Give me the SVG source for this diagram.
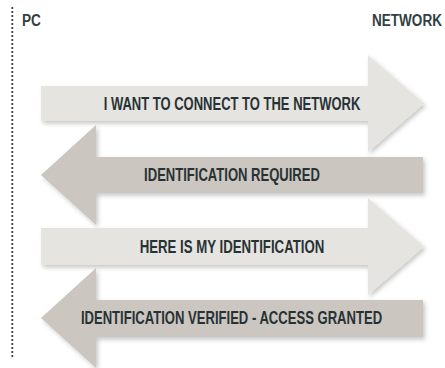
<svg xmlns="http://www.w3.org/2000/svg" width="445" height="368" viewBox="0 0 445 368">
<defs>
<filter id="sh" x="-10%" y="-20%" width="130%" height="150%">
<feDropShadow dx="2" dy="2.5" stdDeviation="2" flood-color="#000" flood-opacity="0.22"/>
</filter>
<style>
.r{fill:#e6e4e0;filter:url(#sh)}
.l{fill:#cbc6c0;filter:url(#sh)}
.t{font-family:"Liberation Sans",Arial,sans-serif;font-weight:bold;font-size:17.5px;fill:#283235;text-anchor:middle}
.h{font-family:"Liberation Sans",Arial,sans-serif;font-weight:bold;font-size:17px;fill:#313f44}
</style>
</defs>
<rect width="445" height="368" fill="#fff"/>
<line x1="12.3" y1="8" x2="12.3" y2="359" stroke="#333" stroke-width="2.2" stroke-linecap="round" stroke-dasharray="0 4"/>
<text class="h" transform="translate(22 26) scale(0.8 1)">PC</text>
<text class="h" transform="translate(372 26) scale(0.797 1)">NETWORK</text>
<g id="connectors">
<g id="msg1">
<path class="r" d="M41 86 H368 V55 L424 103.5 L368 152 V121 H41 Z"/>
<text class="t" transform="translate(232 109.5) scale(0.7435 1)">I WANT TO CONNECT TO THE NETWORK</text>
</g>
<g id="msg2">
<path class="l" d="M423 157 H96 V125 L41 175 L96 225 V193 H423 Z"/>
<text class="t" transform="translate(232 180.5) scale(0.746 1)">IDENTIFICATION REQUIRED</text>
</g>
<g id="msg3">
<path class="r" d="M41 228 H368 V198 L424 246.5 L368 295 V265 H41 Z"/>
<text class="t" transform="translate(232 252.5) scale(0.756 1)">HERE IS MY IDENTIFICATION</text>
</g>
<g id="msg4">
<path class="l" d="M423 300 H96 V268 L41 318 L96 368 V337 H423 Z"/>
<text class="t" transform="translate(231.5 324) scale(0.747 1)">IDENTIFICATION VERIFIED - ACCESS GRANTED</text>
</g>
</g>
</svg>
